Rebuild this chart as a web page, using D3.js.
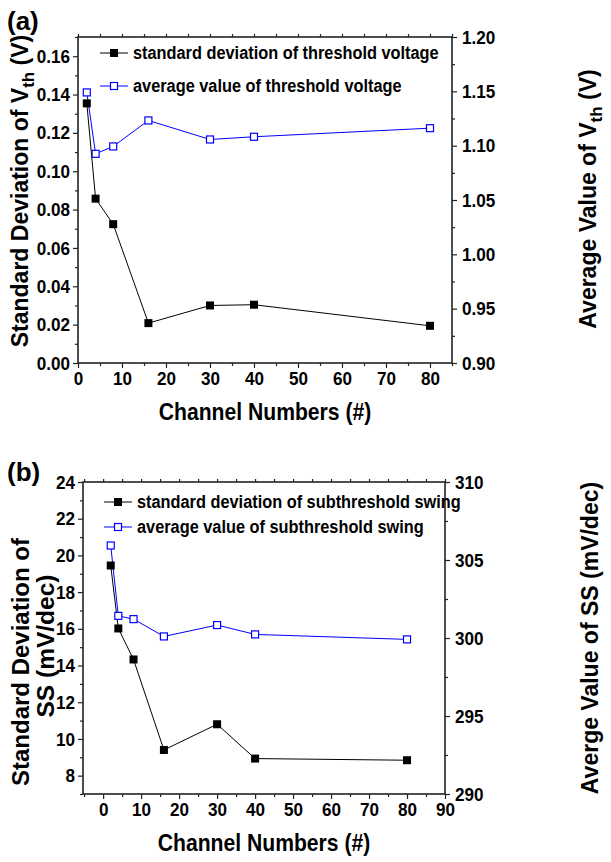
<!DOCTYPE html>
<html lang="en">
<head>
    <meta charset="utf-8">
    <title>Channel numbers</title>
    <script src="https://cdn.jsdelivr.net/npm/d3@7"></script>
    <style>
        body { margin: 0; background: #fff; }
        svg text { font-family: "Liberation Sans", Arial, sans-serif; font-weight: bold; }
    </style>
</head>
<body>
<script type="text/javascript">
    // data
    var channels = [2, 4, 8, 16, 30, 40, 80];
    var vthStd = [0.1354, 0.0857, 0.0724, 0.0208, 0.0300, 0.0304, 0.0194];
    var vthAvg = [1.149, 1.0925, 1.0993, 1.1232, 1.1057, 1.1082, 1.1161];
    var ssStd = [19.45, 16.02, 14.33, 9.40, 10.80, 8.93, 8.84];
    var ssAvg = [305.93, 301.42, 301.21, 300.10, 300.83, 300.23, 299.91];

    var xTicksA = [0, 10, 20, 30, 40, 50, 60, 70, 80];
    var xTicksB = [0, 10, 20, 30, 40, 50, 60, 70, 80, 90];
    var yTicksA = [0, 0.02, 0.04, 0.06, 0.08, 0.10, 0.12, 0.14, 0.16];
    var y2TicksA = [0.90, 0.95, 1.00, 1.05, 1.10, 1.15, 1.20];
    var yTicksB = [8, 10, 12, 14, 16, 18, 20, 22, 24];
    var y2TicksB = [290, 295, 300, 305, 310];

    var legendA = ["standard deviation of threshold voltage", "average value of threshold voltage"];
    var legendB = ["standard deviation of subthreshold swing", "average value of subthreshold swing"];

    var w = 611, h = 862;
    var svg = d3.select("body").append("svg")
        .attr("width", w)
        .attr("height", h);

    function range(a, b, s) {
        var out = [];
        for (var v = a; v <= b + s / 1000; v += s) out.push(+v.toFixed(4));
        return out;
    }

    // the original font is a narrow bold face, so squeeze text horizontally
    function squeeze(sel, k) {
        sel.each(function () {
            var t = d3.select(this);
            var x = +t.attr("x") || 0;
            t.attr("x", 0).attr("transform", "translate(" + x + ",0) scale(" + k + ",1)");
        });
    }

    function panel(opt) {
        var g = svg.append("g");
        var x = d3.scaleLinear().domain(opt.xDom).range([opt.left, opt.right]);
        var y = d3.scaleLinear().domain(opt.yDom).range([opt.bottom, opt.top]);
        var y2 = d3.scaleLinear().domain(opt.y2Dom).range([opt.bottom, opt.top]);

        // minor ticks
        g.append("g").attr("transform", "translate(0," + opt.bottom + ")")
            .call(d3.axisBottom(x).tickValues(opt.xMinor).tickSize(3).tickFormat(""));
        g.append("g").attr("transform", "translate(0," + opt.top + ")")
            .call(d3.axisTop(x).tickValues(opt.xMinor.concat(opt.xTicks)).tickSize(3).tickFormat(""));
        g.append("g").attr("transform", "translate(" + opt.left + ",0)")
            .call(d3.axisLeft(y).tickValues(opt.yMinor).tickSize(3).tickFormat(""));
        g.append("g").attr("transform", "translate(" + opt.right + ",0)")
            .call(d3.axisRight(y2).tickValues(opt.y2Minor).tickSize(3).tickFormat(""));

        // major ticks with labels
        g.append("g").attr("class", "ax").attr("transform", "translate(0," + opt.bottom + ")")
            .call(d3.axisBottom(x).tickValues(opt.xTicks).tickSize(5).tickPadding(4).tickFormat(d3.format("d")));
        g.append("g").attr("class", "ax").attr("transform", "translate(" + opt.left + ",0)")
            .call(d3.axisLeft(y).tickValues(opt.yTicks).tickSize(5).tickPadding(3).tickFormat(opt.yFmt));
        g.append("g").attr("class", "ax").attr("transform", "translate(" + opt.right + ",0)")
            .call(d3.axisRight(y2).tickValues(opt.y2Ticks).tickSize(5).tickPadding(5).tickFormat(opt.yFmt2));

        g.selectAll(".domain").remove();
        g.selectAll(".tick line").attr("stroke", "#222").attr("stroke-width", 1.2);
        g.selectAll(".ax text").attr("font-size", "19px").attr("fill", "#000");
        squeeze(g.selectAll(".ax text"), 0.9);

        // frame
        g.append("rect")
            .attr("x", opt.left).attr("y", opt.top)
            .attr("width", opt.right - opt.left).attr("height", opt.bottom - opt.top)
            .attr("fill", "none").attr("stroke", "#222").attr("stroke-width", 1.6);

        var lineStd = d3.line().x(function (d, i) { return x(channels[i]); }).y(function (d) { return y(d); });
        var lineAvg = d3.line().x(function (d, i) { return x(channels[i]); }).y(function (d) { return y2(d); });

        g.append("path").datum(opt.std).attr("d", lineStd)
            .attr("fill", "none").attr("stroke", "#000").attr("stroke-width", 1);
        g.append("path").datum(opt.avg).attr("d", lineAvg)
            .attr("fill", "none").attr("stroke", "#0000ff").attr("stroke-width", 1);

        g.selectAll(".ms").data(opt.std).enter().append("rect")
            .attr("x", function (d, i) { return x(channels[i]) - 4; })
            .attr("y", function (d) { return y(d) - 4; })
            .attr("width", 8).attr("height", 8)
            .attr("fill", "#000");
        g.selectAll(".ma").data(opt.avg).enter().append("rect")
            .attr("x", function (d, i) { return x(channels[i]) - 3.5; })
            .attr("y", function (d) { return y2(d) - 3.5; })
            .attr("width", 7).attr("height", 7)
            .attr("fill", "#fff").attr("stroke", "#0000ff").attr("stroke-width", 1.2);

        // legend
        var lg = g.append("g");
        opt.legend.forEach(function (txt, i) {
            var ly = opt.legY + i * opt.legGap;
            var col = i === 0 ? "#000" : "#0000ff";
            lg.append("line").attr("x1", opt.legX).attr("x2", opt.legX + 28)
                .attr("y1", ly).attr("y2", ly).attr("stroke", col).attr("stroke-width", 1);
            if (i === 0) {
                lg.append("rect").attr("x", opt.legX + 10).attr("y", ly - 4)
                    .attr("width", 8).attr("height", 8).attr("fill", "#000");
            } else {
                lg.append("rect").attr("x", opt.legX + 10.5).attr("y", ly - 3.5)
                    .attr("width", 7).attr("height", 7)
                    .attr("fill", "#fff").attr("stroke", "#0000ff").attr("stroke-width", 1.2);
            }
            lg.append("text").attr("class", "lt").attr("x", opt.legX + 33).attr("y", ly + 6.5)
                .attr("font-size", "19px").attr("fill", "#000").text(txt);
        });
        squeeze(lg.selectAll(".lt"), 0.86);

        // panel letter
        g.append("text").attr("x", 7).attr("y", opt.letterY)
            .attr("font-size", "26px").attr("fill", "#000").text(opt.letter);

        // x title
        var xt = g.append("text").attr("x", (opt.left + opt.right) / 2).attr("y", opt.bottom + 57)
            .attr("text-anchor", "middle").attr("font-size", "23.5px").attr("fill", "#000")
            .text("Channel Numbers (#)");
        squeeze(xt, 0.9);
        return g;
    }

    var ga = panel({
        left: 78, right: 452, top: 37, bottom: 363,
        xDom: [0, 85], yDom: [0, 0.17], y2Dom: [0.9, 1.2],
        xTicks: xTicksA, xMinor: range(5, 85, 10),
        yTicks: yTicksA, yMinor: range(0.01, 0.17, 0.02),
        y2Ticks: y2TicksA, y2Minor: range(0.925, 1.175, 0.05),
        yFmt: d3.format(".2f"), yFmt2: d3.format(".2f"),
        std: vthStd, avg: vthAvg, legend: legendA,
        legX: 100, legY: 53, legGap: 33, letter: "(a)", letterY: 30
    });

    var gb = panel({
        left: 83, right: 445, top: 482, bottom: 794,
        xDom: [-5.3, 90], yDom: [7, 24], y2Dom: [290, 310],
        xTicks: xTicksB, xMinor: range(-5, 85, 10),
        yTicks: yTicksB, yMinor: range(7, 23, 2),
        y2Ticks: y2TicksB, y2Minor: range(292.5, 307.5, 5),
        yFmt: d3.format("d"), yFmt2: d3.format("d"),
        std: ssStd, avg: ssAvg, legend: legendB,
        legX: 104, legY: 502, legGap: 25, letter: "(b)", letterY: 481
    });

    // y titles (rotated)
    function vTitle(g, cx, cy, size, parts) {
        var t = g.append("text")
            .attr("transform", "translate(" + cx + "," + cy + ") rotate(-90)")
            .attr("text-anchor", "middle").attr("font-size", size).attr("fill", "#000");
        parts.forEach(function (p) {
            var s = t.append("tspan").text(p[0]);
            if (p[1]) s.attr("dy", p[1]);
            if (p[2]) s.attr("font-size", p[2]);
        });
    }

    vTitle(ga, 28, 191, "23px", [["Standard Deviation of  V"], ["th", 6, "17px"], [" (V)", -6]]);
    vTitle(ga, 596, 199, "23px", [["Average Value of  V"], ["th", 6, "17px"], [" (V)", -6]]);
    vTitle(gb, 29, 662, "24px", [["Standard Deviation of"]]);
    vTitle(gb, 54, 646, "24.5px", [["SS (mV/dec)"]]);
    vTitle(gb, 598, 638, "23px", [["Averge Value of SS (mV/dec)"]]);
</script>
</body>
</html>
